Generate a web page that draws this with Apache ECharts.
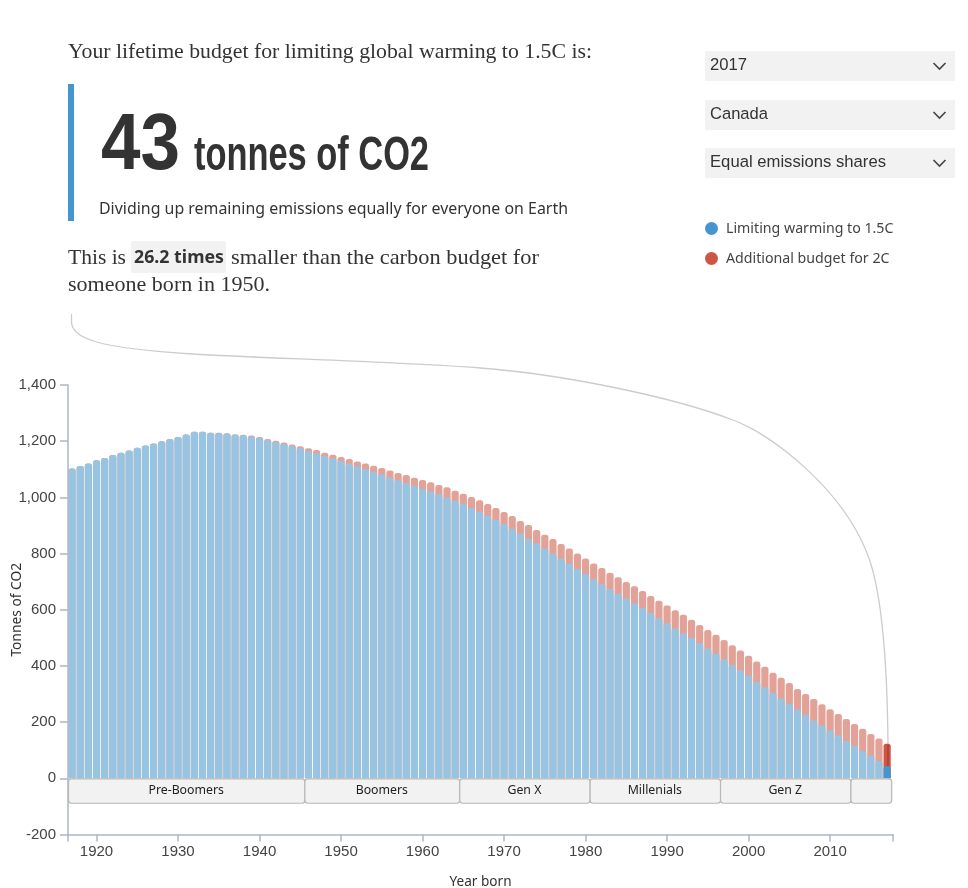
<!DOCTYPE html>
<html><head><meta charset="utf-8">
<style>html,body{margin:0;padding:0;background:#fff}#c{width:968px;height:888px}</style>
<script src="https://cdn.jsdelivr.net/npm/echarts@6/dist/echarts.min.js"></script>
</head><body><div id="c"></div>
<script>
const years=[1917,1918,1919,1920,1921,1922,1923,1924,1925,1926,1927,1928,1929,1930,
1931,1932,1933,1934,1935,1936,1937,1938,1939,1940,1941,1942,1943,1944,1945,1946,1947,1948,1949,1950,
1951,1952,1953,1954,1955,1956,1957,1958,1959,1960,1961,1962,1963,1964,1965,1966,1967,1968,1969,1970,
1971,1972,1973,1974,1975,1976,1977,1978,1979,1980,1981,1982,1983,1984,1985,1986,1987,1988,1989,1990,
1991,1992,1993,1994,1995,1996,1997,1998,1999,2000,2001,2002,2003,2004,2005,2006,2007,2008,2009,2010,
2011,2012,2013,2014,2015,2016,2017];
const limit15=[1103,1112,1121,1132,1140,1151,1159,1167,1177,1185,1192,1200,1208,1215,
1224,1234,1234,1230,1229,1227,1223,1221,1217,1212,
1204,1197,1191,1183,1176,1165,1158,1148,1139,1130,
1120,1111,1101,1091,1082,1071,1062,1051,1042,1032,
1022,1011,1000,988,977,962,949,934,920,904,
888,871,852,837,818,800,782,764,745,727,
709,692,674,657,641,623,607,588,570,552,
534,516,500,481,462,444,424,404,385,365,
344,324,304,284,265,245,225,206,188,170,
152,133,116,98,80,62,43];
const total2C=[1103,1112,1121,1132,1140,1151,1159,1167,1177,1185,1192,1200,1208,1215,
1224,1234,1234,1230,1230,1228,1225,1223,1220,1215,
1208,1202,1195,1188,1182,1175,1169,1159,1152,1144,
1137,1128,1121,1113,1105,1096,1087,1080,1070,1062,
1054,1044,1036,1024,1013,1001,990,976,962,948,
934,916,902,884,867,852,834,818,800,782,
765,749,732,716,699,684,667,649,632,615,
598,582,564,546,528,511,492,474,455,436,
416,397,376,358,339,318,300,282,264,246,
229,211,193,176,158,142,123];
const generations=[['Pre-Boomers',1917,1945],['Boomers',1946,1964],['Gen X',1965,1980],['Millenials',1981,1996],['Gen Z',1997,2012],['',2013,2017]];
const xTicks=[1916.5,1920,1930,1940,1950,1960,1970,1980,1990,2000,2010,2017.72];
const xLabels=[1920,1930,1940,1950,1960,1970,1980,1990,2000,2010];
const selectors=['2017','Canada','Equal emissions shares'];
const selectorWidths=[37,58,176];
const seriesNames=['Limiting warming to 1.5C','Additional budget for 2C'];

const BLUE='#4596d0',RED='#cc5544',LBLUE='#97c4e3',LRED='#e3a297';
const SERIF='"Liberation Serif",serif',SANS='"Noto Sans",sans-serif',NARROW='"Liberation Sans Narrow","Liberation Sans",sans-serif',ARIAL='"Liberation Sans",Arial,sans-serif';

const mc=document.createElement('canvas').getContext('2d');
function T(text,x,y,width,size,family,weight,color){
  const font=(weight||'normal')+' '+size+'px '+family;
  mc.font=font;
  const w=mc.measureText(text).width;
  return {type:'text',x:x,y:y,scaleX:width/w,z:10,silent:true,
    style:{text:text,font:font,fill:color||'#333',verticalAlign:'middle',align:'left'}};
}
function curve(x1,y1,cx1,cy1,cx2,cy2,x2,y2){
  return {type:'bezierCurve',shape:{x1:x1,y1:y1,cpx1:cx1,cpy1:cy1,cpx2:cx2,cpy2:cy2,x2:x2,y2:y2},
    style:{fill:'none',stroke:'#cccccc',lineWidth:1.3},silent:true,z:1};
}
const graphic=[
 {type:'rect',shape:{x:68,y:84,width:6,height:137},style:{fill:BLUE},silent:true},
 {type:'rect',shape:{x:131,y:241,width:95,height:32,r:2},style:{fill:'#f2f2f2'},silent:true},
 T('Your lifetime budget for limiting global warming to 1.5C is:',68,52,524,22,SERIF),
 T('43',101,146.5,79,80,NARROW,'bold'),
 T('tonnes of CO2',194,157,235,48,NARROW,'bold'),
 T('Dividing up remaining emissions equally for everyone on Earth',99,209,469,16,SANS),
 T('This is',68,258,58,22,SERIF),
 T('26.2 times',134,258,90,18,SANS,'bold'),
 T('smaller than the carbon budget for',231,258,308,22,SERIF),
 T('someone born in 1950.',68,285,202,22,SERIF),
 curve(71.5,314,71.5,317,71.5,319,71.5,322),
 curve(71.5,322,72,338,95,348,193,354),
 curve(193,354,260,358,400,362,480,368),
 curve(480,368,560,374,670,396,733,420),
 curve(733,420,775,436,842,490,867,553),
 curve(867,553,878,580,887,630,888,745),
 {type:'line',shape:{x1:888,y1:745,x2:888,y2:766},style:{stroke:'rgba(120,30,20,0.35)',lineWidth:1.5},silent:true,z:9}
];
[51,100,148].forEach((y,i)=>{
  graphic.push({type:'rect',shape:{x:705,y:y,width:250,height:30},style:{fill:'#f2f2f2'},silent:true});
  graphic.push(T(selectors[i],710,y+15,selectorWidths[i],16.3,ARIAL,'normal','#333'));
  graphic.push({type:'polyline',shape:{points:[[933.5,y+12],[939.5,y+18],[945.5,y+12]]},style:{fill:'none',stroke:'#444',lineWidth:1.6},silent:true});
});

const option={
 animation:false,
 textStyle:{fontFamily:ARIAL},
 grid:{left:68,top:385,width:825,height:449.5,outerBoundsMode:'none'},
 legend:{left:705,top:221,padding:0,orient:'vertical',icon:'circle',itemWidth:13,itemHeight:13,itemGap:15,selectedMode:false,
   textStyle:{fontFamily:SANS,fontSize:14.2,lineHeight:15,color:'#444',padding:[0,0,0,3]},
   data:[{name:seriesNames[0],itemStyle:{color:BLUE}},{name:seriesNames[1],itemStyle:{color:RED}}]},
 xAxis:{type:'value',min:1916.5,max:2017.72,splitLine:{show:false},
   name:'Year born',nameLocation:'middle',nameGap:41,nameMoveOverlap:false,nameTextStyle:{fontFamily:SANS,fontSize:13.6,color:'#333'},
   axisLine:{onZero:false,lineStyle:{color:'#aab8c8',width:1.5}},
   axisTick:{show:true,length:7,customValues:xTicks,lineStyle:{color:'#aab8c8',width:1.5}},
   axisLabel:{customValues:xLabels,margin:10,fontSize:15,color:'#444',fontFamily:ARIAL,formatter:v=>String(v),hideOverlap:false,showMinLabel:true,showMaxLabel:true}},
 yAxis:{type:'value',min:-200,max:1400,interval:200,splitLine:{show:false},
   name:'Tonnes of CO2',nameLocation:'middle',nameRotate:90,nameGap:44,nameMoveOverlap:false,nameTextStyle:{fontFamily:SANS,fontSize:13.8,color:'#333'},
   axisLine:{show:true,onZero:false,lineStyle:{color:'#aab8c8',width:1.5}},
   axisTick:{show:true,length:8,lineStyle:{color:'#aab8c8',width:1.5}},
   axisLabel:{margin:12,fontSize:15,color:'#444',fontFamily:ARIAL,formatter:v=>v.toLocaleString('en-US')}},
 graphic:graphic,
 series:[
  {name:seriesNames[1],type:'bar',barWidth:7.2,barGap:'-100%',z:2,itemStyle:{color:LRED,borderRadius:[2.5,2.5,0,0]},
   data:years.map((y,i)=>({value:[y,total2C[i]],itemStyle:y===2017?{color:RED}:undefined}))},
  {name:seriesNames[0],type:'bar',barWidth:7.2,barGap:'-100%',z:3,itemStyle:{color:LBLUE,borderRadius:[2.5,2.5,0,0]},
   data:years.map((y,i)=>({value:[y,limit15[i]],itemStyle:y===2017?{color:BLUE}:undefined}))},
  {type:'custom',z:4,silent:true,encode:{x:[1,2],y:0},
   data:generations.map(g=>[g[0],g[1],g[2]]),
   renderItem:(p,api)=>{
     const g=generations[p.dataIndex];
     const a=api.coord([g[1]-0.5,0]),b=api.coord([g[2]+0.5,-87]);
     return {type:'group',children:[
       {type:'rect',shape:{x:a[0]+0.5,y:a[1]+0.5,width:b[0]-a[0],height:b[1]-a[1],r:3},style:{fill:'#f2f2f2',stroke:'#b8b8b8',lineWidth:1.2}},
       {type:'text',x:(a[0]+b[0])/2,y:(a[1]+b[1])/2,style:{text:g[0],font:'12.3px '+SANS,fill:'#222',align:'center',verticalAlign:'middle'}}
     ]};
   }}
 ]
};
echarts.init(document.getElementById('c'),null,{renderer:'canvas'}).setOption(option);
</script></body></html>
